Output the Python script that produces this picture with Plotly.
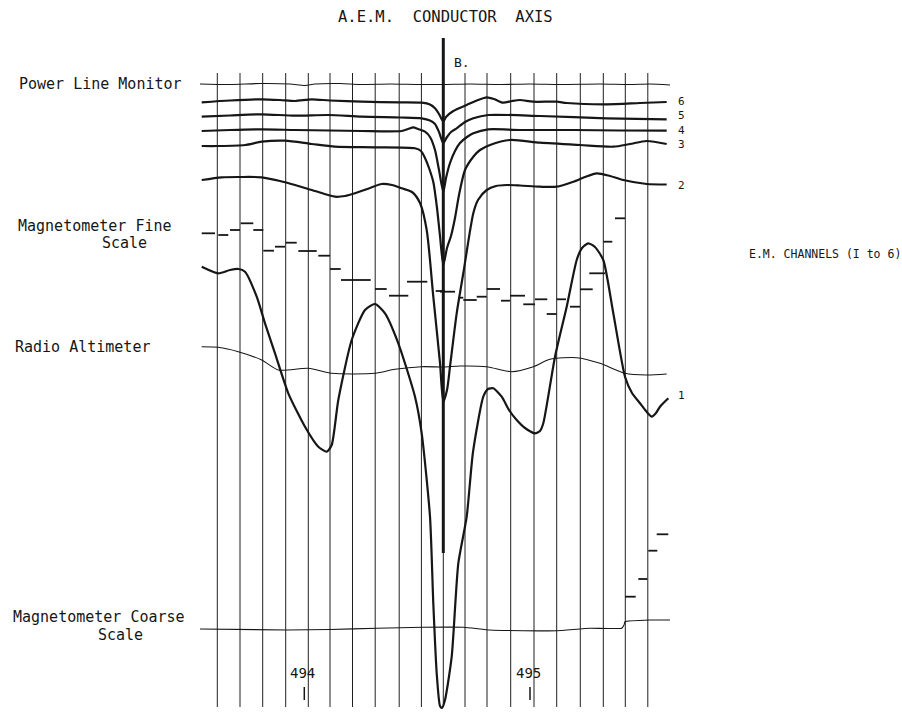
import plotly.graph_objects as go

# ---------------- data (digitized from the survey record) ----------------
# vertical fiducial grid positions (distance units along flight line)
grid_x = [217.3, 240, 262.7, 285.7, 308.3, 330, 352.5, 375.2, 399.2, 421.4,
          443.3, 465, 487, 510.7, 534, 556.7, 580.3, 603.3, 625.3, 647.8]
conductor_x = 443.3

power_x = [200, 230, 260, 290, 305, 315, 340, 360, 390, 420, 443, 470, 500, 530, 560, 600, 630, 650, 670]
power_y = [84, 84.5, 83.5, 84, 85.5, 84, 83.5, 84.5, 84, 84.5, 84.5, 84, 84.5, 84, 84.5, 84, 84.5, 84, 85]

ch6_x = [201.7, 230, 261.7, 280, 295, 311.7, 330, 361.7, 400, 421.7, 430, 435, 439, 443.3, 446, 453.3,
         466.7, 478, 486.7, 494, 503, 512, 520, 533, 556.7, 566.7, 606.7, 640, 666.7]
ch6_y = [102.3, 100.5, 99.3, 100, 101, 99.3, 100.5, 101.7, 102.3, 102.7, 104.5, 108.3, 114, 121.7, 117, 111,
         105, 100, 97.3, 99, 102.7, 101, 100, 101.7, 101.7, 103, 104.3, 103, 102]

ch5_x = [201.7, 230, 261.7, 295, 328.3, 361.7, 400, 421.7, 430, 435, 439, 443.3, 447, 451, 456.7,
         465, 473.3, 488.3, 540, 606.7, 666.7]
ch5_y = [116.7, 115.5, 114.3, 115.7, 115, 116.7, 117.5, 118.3, 120.5, 124, 132, 143, 137, 132, 128.3,
         122, 118.3, 115, 116, 118.3, 119.3]

ch4_x = [201.7, 230, 261.7, 295, 330, 361.7, 401.7, 408, 413.3, 418, 425, 430, 435, 439, 443.3, 446,
         450, 455, 460, 467, 473.3, 488.3, 520, 573.3, 620, 666.7]
ch4_y = [131, 130, 129.3, 130, 130.5, 131, 131, 129, 127.3, 129, 131.7, 137, 150, 170, 191.7, 178,
         163, 151, 143, 137, 133.3, 129.3, 130, 130, 130.5, 130.7]

ch3_x = [201.7, 218, 245, 261.7, 285, 311.7, 335, 375, 415, 421, 425, 429, 433.3, 437, 440, 443.3,
         447, 451, 455, 459, 465, 473.3, 480, 490, 510, 540, 580, 613.3, 630, 646.7, 666.7]
ch3_y = [146, 146, 145, 141.7, 140.7, 144, 146.7, 147.3, 148.3, 151, 158, 168, 182, 208, 236, 265,
         248, 236, 218, 195, 170, 156.7, 150, 145, 140, 142.7, 145, 146.7, 144, 141, 144]

ch2_x = [201.7, 221.7, 240, 261.7, 280, 295, 315, 335, 345, 355, 370, 381.7, 392, 401.7, 412, 420,
         426.7, 433.3, 440, 443.3, 447, 450, 456.7, 463.3, 473.3, 478, 486.7, 496, 506.7, 520, 540,
         556.7, 573.3, 585, 596.7, 610, 623.3, 646.7, 666.7]
ch2_y = [180, 177.3, 177, 177.3, 181, 185, 191, 196.7, 196, 193.3, 188, 184, 185, 188.3, 192, 203,
         230, 296.7, 363, 401.7, 390, 366.7, 313.3, 273.3, 213.3, 200, 190, 186, 185, 185.5, 186.7,
         186.7, 181.7, 177, 173.3, 176, 180, 184, 184.5]

ch1_x = [201.7, 218.3, 230, 238.3, 245, 256.7, 265, 275, 288.3, 305, 318.3, 326.7, 331.7, 338.3, 351.7,
         365, 375, 385, 398.3, 415, 421.7, 430, 433.3, 436.7, 440, 442, 445, 451.7, 458.3, 466.7,
         473, 483.3, 488, 493.3, 501.7, 509, 516.7, 525, 535, 540, 543.3, 555, 566.7, 576.7, 582,
         588.3, 595, 603.3, 613.3, 625, 632, 640, 646, 651.7, 656, 660, 668.3]
ch1_y = [266.7, 273.3, 270, 269, 271.7, 296.7, 323.3, 353.3, 393.3, 426.7, 446.7, 451.7, 445, 400, 340,
         310, 304, 313.3, 343.3, 396.7, 433.3, 516.7, 603.3, 673.3, 706, 708, 700, 656.7, 563.3, 516.7,
         452, 396.7, 389, 388.3, 396.7, 410, 420, 428, 433.3, 431, 423.3, 356.7, 306.7, 260, 248,
         243.3, 247, 260, 313.3, 376.7, 393, 403.3, 411, 416.7, 413, 406.7, 398.3]

alt_x = [201.7, 218.3, 238.3, 261.7, 278.3, 308.3, 331.7, 375, 395, 421.7, 443.3, 460, 486.7, 511.7,
         533.3, 550, 576.7, 600, 625, 646.7, 666.7]
alt_y = [346.7, 347.3, 351.7, 360, 370, 368.3, 373.3, 373.3, 369.3, 366.7, 367, 366, 366.7, 371.7,
         366.7, 359.3, 357.7, 363.3, 373.3, 375, 374]

# magnetometer fine scale: stepped dashes (start, end, level)
magf_x0 = [201.7, 218.3, 230, 240.7, 253.3, 263.3, 275, 285.7, 298.3, 318.3, 330, 341, 375, 389, 407,
           435.7, 440, 458.3, 463.3, 476.7, 486.7, 501, 510, 523.3, 535, 546.7, 556.7, 570, 580,
           589.3, 603.3, 615]
magf_x1 = [215, 228.3, 240, 253.3, 263.3, 274, 285, 296.7, 316.7, 330, 340.7, 370.7, 386.7, 408.3,
           427.3, 445, 455, 463.3, 476.7, 486.7, 500, 510, 525, 535, 547.3, 556.7, 566, 580, 592.7,
           605, 612.3, 625]
magf_y = [233.3, 235, 230, 223.3, 230, 250.7, 246.7, 242.7, 251, 255.7, 269, 280, 289, 295.7, 281.7,
          291, 291.7, 297.7, 300, 296.7, 289, 300.7, 295.7, 304.3, 299.3, 314, 299.3, 306.7, 289.3,
          273.3, 241.7, 218.3]

coarse_x = [200, 286.7, 330, 376.7, 423.3, 463.3, 490, 523.3, 556.7, 590, 621.7, 624, 625, 650, 670]
coarse_y = [629, 630, 629.5, 628.3, 627.3, 627.3, 630, 630.7, 630.7, 628.3, 628.3, 625, 621.7, 620, 620]

magc_x0 = [625, 638.3, 648.3, 656.7]
magc_x1 = [635.7, 647.3, 657.3, 668.3]
magc_y = [596.7, 579, 550.7, 534.3]

fid_labels = ["494", "495"]
fid_x = [304.3, 530]

channel_labels = ["6", "5", "4", "3", "2", "1"]
channel_label_y = [101, 115.5, 130, 144.5, 185.7, 395]

# ---------------- figure ----------------
INK = "#161616"
fig = go.Figure()

def seg_xy(x0s, x1s, ys):
    xs, yy = [], []
    for a, b, c in zip(x0s, x1s, ys):
        xs += [a, b, None]
        yy += [c, c, None]
    return xs, yy

# grid lines
gx, gy = [], []
for g in grid_x:
    gx += [g, g, None]
    gy += [73, 707, None]
fig.add_trace(go.Scatter(x=gx, y=gy, mode="lines", line=dict(color="#202020", width=1),
                         hoverinfo="skip", showlegend=False))

# conductor axis
fig.add_trace(go.Scatter(x=[conductor_x, conductor_x], y=[38, 553], mode="lines",
                         line=dict(color=INK, width=3), hoverinfo="skip", showlegend=False))

def curve(x, y, w, smooth=0.7):
    fig.add_trace(go.Scatter(x=x, y=y, mode="lines",
                             line=dict(color=INK, width=w, shape="spline", smoothing=smooth),
                             hoverinfo="skip", showlegend=False))

curve(power_x, power_y, 1.1)
curve(ch6_x, ch6_y, 2.2)
curve(ch5_x, ch5_y, 2.2)
curve(ch4_x, ch4_y, 2.2)
curve(ch3_x, ch3_y, 2.2)
curve(ch2_x, ch2_y, 2.2)
curve(ch1_x, ch1_y, 2.2, 0.6)
curve(alt_x, alt_y, 1.1)
curve(coarse_x, coarse_y, 1.1, 0.3)

mx, my = seg_xy(magf_x0, magf_x1, magf_y)
fig.add_trace(go.Scatter(x=mx, y=my, mode="lines", line=dict(color=INK, width=1.8),
                         hoverinfo="skip", showlegend=False))
cx, cy = seg_xy(magc_x0, magc_x1, magc_y)
fig.add_trace(go.Scatter(x=cx, y=cy, mode="lines", line=dict(color=INK, width=1.8),
                         hoverinfo="skip", showlegend=False))

# fiducial ticks
tx, ty = [], []
for f in fid_x:
    tx += [f, f, None]
    ty += [687, 700, None]
fig.add_trace(go.Scatter(x=tx, y=ty, mode="lines", line=dict(color=INK, width=1.5),
                         hoverinfo="skip", showlegend=False))

FONT = "DejaVu Sans Mono"
ann = []
def label(text, x, y, size=15, anchor="left", pad=1):
    ann.append(dict(text=text, x=x, y=y, xref="x", yref="y", showarrow=False,
                    xanchor=anchor, yanchor="middle", borderpad=pad,
                    font=dict(family=FONT, size=size, color=INK)))

label("A.E.M.\u00a0\u00a0CONDUCTOR\u00a0\u00a0AXIS", 445, 17, 15.5, "center")
label("B.", 452, 62, 13)
label("Power Line Monitor", 17, 84, 15)
label("Magnetometer Fine", 16, 226, 15)
label("Scale", 124, 243, 15, "center")
label("Radio Altimeter", 13, 347, 15)
label("Magnetometer Coarse", 11, 617, 15)
label("Scale", 120, 635, 15, "center")
label("E.M. CHANNELS (I to 6)", 747, 254, 11.5)
for t, yv in zip(channel_labels, channel_label_y):
    label(t, 681, yv, 11, "center", 0)
for t, xv in zip(fid_labels, fid_x):
    label(t, xv - 2, 673, 14, "center")

fig.update_layout(
    width=902, height=713,
    margin=dict(l=0, r=0, t=0, b=0),
    paper_bgcolor="white", plot_bgcolor="white",
    xaxis=dict(range=[0, 902], visible=False, fixedrange=True),
    yaxis=dict(range=[713, 0], visible=False, fixedrange=True),
    annotations=ann,
    showlegend=False,
)

fig.write_html("out.html", config={"displayModeBar": False},
               post_script="document.body.style.margin='0px';document.body.style.overflow='hidden';")
